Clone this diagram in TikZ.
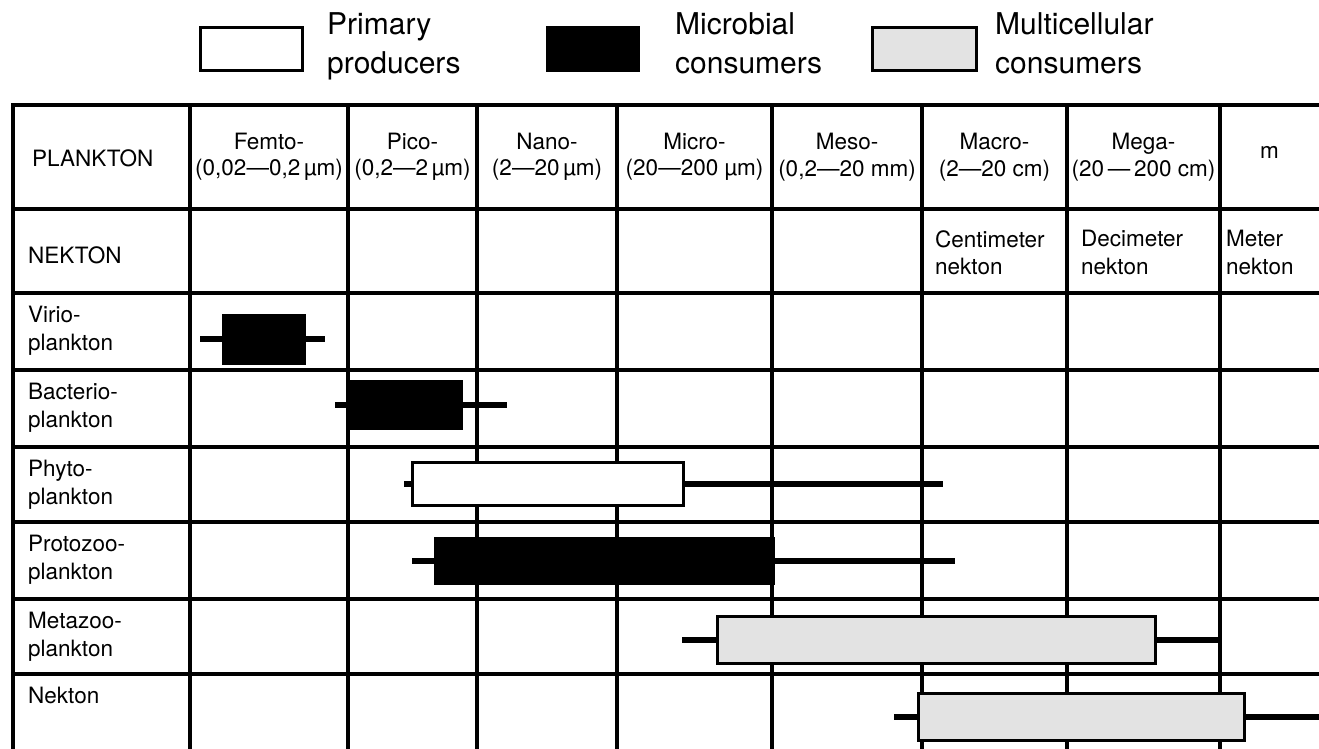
\documentclass[tikz,border=0pt]{standalone}
\usepackage{fontspec}
\setmainfont{TeX Gyre Heros}
\definecolor{multigray}{gray}{0.89}
\begin{document}
\begin{tikzpicture}[x=1pt,y=-1pt,
  grid/.style={line width=3.3pt,line cap=rect},
  legbox/.style={draw,line width=3pt,minimum height=43pt,inner sep=0pt,outer sep=0pt},
  legtext/.style={anchor=north west,inner sep=0pt,align=left,font=\fontsize{30}{39}\selectfont},
  bar/.style={draw,line width=3pt,inner sep=0pt,outer sep=0pt,anchor=north west},
  producer/.style={bar,fill=white},
  microbial/.style={bar,fill=black},
  multicell/.style={bar,fill=multigray},
  whisker/.style={line width=6pt},
  tabfont/.style={font=\fontsize{22.5}{26.5}\selectfont},
  head/.style={align=center,inner sep=0pt,tabfont},
  cell/.style={anchor=north west,inner sep=0pt,align=left,font=\fontsize{22.5}{27.5}\selectfont},
  rowlabel/.style={cell},
]
\useasboundingbox (0,0) rectangle (1319,748);
\clip (0,0) rectangle (1319,748);

% legend
\node[legbox,fill=white,minimum width=102pt] (leg-prod) at (251,48.5) {};
\node[legtext] (leg-prod-text) at (327,12) {Primary\\producers};
\node[legbox,fill=black,minimum width=91pt] (leg-micro) at (592.5,48.5) {};
\node[legtext] (leg-micro-text) at (675,12) {Microbial\\consumers};
\node[legbox,fill=multigray,minimum width=104pt] (leg-multi) at (924,48.5) {};
\node[legtext] (leg-multi-text) at (995,12) {Multicellular\\consumers};

% table grid
\foreach \y in {105,209,293,370,447,522,599,674}
  \draw[grid] (13,\y) -- (1330,\y);
\foreach \x in {13,190,348,477,617,772,922,1067,1220}
  \draw[grid] (\x,105) -- (\x,760);

% header row
\node[anchor=west,inner sep=0pt,tabfont] (plankton) at (32,158) {PLANKTON};
\node[head] (h-femto) at (269,157) {Femto-\\(0,02—0,2\,µm)};
\node[head] (h-pico)  at (412.5,157) {Pico-\\(0,2—2\,µm)};
\node[head] (h-nano)  at (547,157) {Nano-\\(2—20\,µm)};
\node[head] (h-micro) at (694.5,157) {Micro-\\(20—200 µm)};
\node[head] (h-meso)  at (847,157) {Meso-\\(0,2—20 mm)};
\node[head] (h-macro) at (994.5,157) {Macro-\\(2—20 cm)};
\node[head] (h-mega)  at (1143.5,157) {Mega-\\(20\,—\,200 cm)};
\node[head] (h-m)     at (1269.5,152) {m};

% nekton row
\node[anchor=west,inner sep=0pt,tabfont] (nekton-head) at (28,255) {NEKTON};
\node[cell] (n-cm) at (935,230) {Centimeter\\nekton};
\node[cell] (n-dm) at (1081,230) {Decimeter\\nekton};
\node[cell] (n-m)  at (1226,230) {Meter\\nekton};

% row labels
\node[rowlabel] (r-virio)    at (28,306) {Virio-\\plankton};
\node[rowlabel] (r-bacterio) at (28,383) {Bacterio-\\plankton};
\node[rowlabel] (r-phyto)    at (28,460) {Phyto-\\plankton};
\node[rowlabel] (r-protozoo) at (28,535) {Protozoo-\\plankton};
\node[rowlabel] (r-metazoo)  at (28,612) {Metazoo-\\plankton};
\node[rowlabel] (r-nekton)   at (28,687) {Nekton};

% size ranges: boxes
\node[microbial,minimum width=81pt,minimum height=48pt]  (b-virio)    at (223,315) {};
\node[microbial,minimum width=113pt,minimum height=47pt] (b-bacterio) at (348,381) {};
\node[producer,minimum width=271pt,minimum height=43pt]  (b-phyto)    at (412,462) {};
\node[microbial,minimum width=338pt,minimum height=45pt] (b-protozoo) at (435,538) {};
\node[multicell,minimum width=438pt,minimum height=47pt] (b-metazoo)  at (717,616) {};
\node[multicell,minimum width=326pt,minimum height=47pt] (b-nekton)   at (918,693) {};

% size ranges: whisker ends, level with each box centre
\path (b-virio.west)    ++(-23,0) coordinate (w-virio-l) (b-virio.east)    ++(21,0)  coordinate (w-virio-r);
\path (b-bacterio.west) ++(-13,0) coordinate (w-bact-l)  (b-bacterio.east) ++(46,0)  coordinate (w-bact-r);
\path (b-phyto.west)    ++(-8,0)  coordinate (w-phyto-l) (b-phyto.east)    ++(260,0) coordinate (w-phyto-r);
\path (b-protozoo.west) ++(-23,0) coordinate (w-proto-l) (b-protozoo.east) ++(182,0) coordinate (w-proto-r);
\path (b-metazoo.west)  ++(-35,0) coordinate (w-meta-l)  (b-metazoo.east)  ++(65,0)  coordinate (w-meta-r);
\path (b-nekton.west)   ++(-24,0) coordinate (w-nek-l)   (b-nekton.east)   ++(90,0)  coordinate (w-nek-r);

\draw[whisker] (w-virio-l) -- (b-virio.west);    \draw[whisker] (b-virio.east) -- (w-virio-r);
\draw[whisker] (w-bact-l) -- (b-bacterio.west);  \draw[whisker] (b-bacterio.east) -- (w-bact-r);
\draw[whisker] (w-phyto-l) -- (b-phyto.west);    \draw[whisker] (b-phyto.east) -- (w-phyto-r);
\draw[whisker] (w-proto-l) -- (b-protozoo.west); \draw[whisker] (b-protozoo.east) -- (w-proto-r);
\draw[whisker] (w-meta-l) -- (b-metazoo.west);   \draw[whisker] (b-metazoo.east) -- (w-meta-r);
\draw[whisker] (w-nek-l) -- (b-nekton.west);     \draw[whisker] (b-nekton.east) -- (w-nek-r);
\end{tikzpicture}
\end{document}
